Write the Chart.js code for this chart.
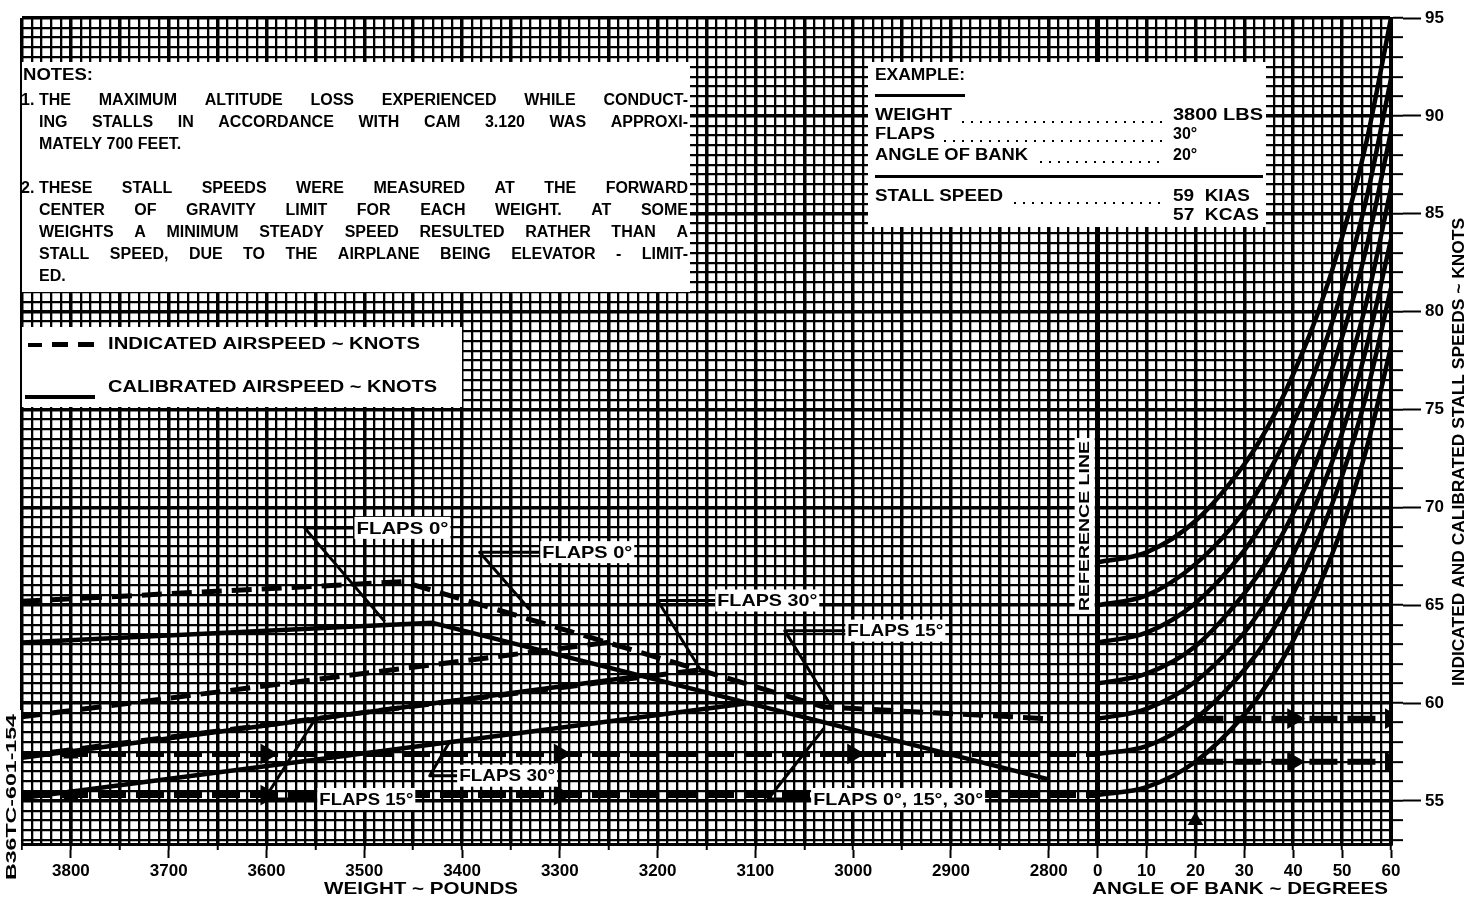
<!DOCTYPE html>
<html>
<head>
<meta charset="utf-8">
<title>Stall speeds</title>
<script src="https://cdn.jsdelivr.net/npm/chart.js@4.4.1/dist/chart.umd.min.js"></script>
<style>
html,body{margin:0;padding:0;background:#fff;overflow:hidden;}
canvas{display:block;}
</style>
</head>
<body>
<canvas id="chart" width="1470" height="900"></canvas>
<script>
// ---------------- data ----------------
const weightTicks = [3800, 3700, 3600, 3500, 3400, 3300, 3200, 3100, 3000, 2900, 2800];
const bankTicks   = [0, 10, 20, 30, 40, 50, 60];
const speedTicks  = [55, 60, 65, 70, 75, 80, 85, 90, 95];

// weight side (IAS dashed, CAS solid)
const ias0Weights  = [3850, 3460, 3030, 2800];
const ias0Knots    = [65.2, 66.2, 59.8, 59.2];
const cas0Weights  = [3850, 3430, 2800];
const cas0Knots    = [63.1, 64.1, 56.1];
const ias15Weights = [3850, 3250];
const ias15Knots   = [59.3, 63.1];
const cas15Weights = [3850, 3216];
const cas15Knots   = [57.2, 61.4];
const ias30Weights = [3850, 3156];
const ias30Knots   = [57.3, 61.7];
const cas30Weights = [3850, 3106];
const cas30Knots   = [55.15, 60.0];

// angle-of-bank guide curves (start at the reference line)
const bankAngles = [0, 10, 20, 30, 35, 40, 45, 50, 55, 60];
const bankCurveA = [67.2, 67.7, 69.3, 72.2, 74.2, 76.8, 79.9, 83.8, 88.7, 95.0];
const bankCurveB = [65.0, 65.5, 67.1, 69.8, 71.8, 74.3, 77.3, 81.1, 85.8, 91.9];
const bankCurveC = [63.1, 63.6, 65.1, 67.8, 69.7, 72.1, 75.0, 78.7, 83.3, 89.2];
const bankCurveD = [61.0, 61.5, 62.9, 65.6, 67.4, 69.7, 72.5, 76.1, 80.5, 86.3];
const bankCurveE = [59.2, 59.7, 61.1, 63.6, 65.4, 67.6, 70.4, 73.8, 78.2, 83.7];
const bankCurveF = [57.4, 57.8, 59.2, 61.7, 63.4, 65.6, 68.3, 71.6, 75.8, 81.2];
const bankCurveG = [55.3, 55.7, 57.0, 59.4, 61.1, 63.2, 65.8, 69.0, 73.0, 78.2];

// example path (3800 lbs, flaps 30, 20 deg bank)
const exWeights      = [3850, 3800, 3600, 3300, 3000, 2750];
const exIasKnots     = [57.4, 57.4, 57.4, 57.4, 57.4, 57.4];
const exCasKnots     = [55.3, 55.3, 55.3, 55.3, 55.3, 55.3];
const exUpWeights    = [3800, 3800, 3800];
const exUpKnots      = [52.8, 55.3, 57.4];
const exBankAngles   = [20, 40, 60];
const exBankIas      = [59.2, 59.2, 59.2];
const exBankCas      = [57.0, 57.0, 57.0];
const exBankUpAngles = [20, 20, 20];
const exBankUpKnots  = [52.8, 54.0, 57.0];

// label leader lines (weight, knots)
const leaderFlaps0a   = {w: [3510, 3561, 3479], k: [68.95, 68.95, 64.16]};
const leaderFlaps0b   = {w: [3320, 3382, 3331], k: [67.71, 67.71, 64.78]};
const leaderFlaps30a  = {w: [3141, 3200, 3156], k: [65.24, 65.24, 61.69]};
const leaderFlaps15a  = {w: [3008, 3070, 3023], k: [63.70, 63.70, 59.89]};
const leaderFlaps15b  = {w: [3548, 3602, 3551], k: [55.10, 55.10, 59.12]};
const leaderFlaps30b  = {w: [3405, 3433, 3413], k: [56.29, 56.29, 58.00]};
const leaderFlapsAll  = {w: [3043, 3087, 3030], k: [55.10, 55.10, 58.70]};

const notesText = [
  ['NOTES:', false, 0],
  ['1.', false, -1],
  ['THE MAXIMUM ALTITUDE LOSS EXPERIENCED WHILE CONDUCT-', true, 1],
  ['ING STALLS IN ACCORDANCE WITH CAM 3.120 WAS APPROXI-', true, 2],
  ['MATELY 700 FEET.', false, 3],
  ['2.', false, -5],
  ['THESE STALL SPEEDS WERE MEASURED AT THE FORWARD', true, 5],
  ['CENTER OF GRAVITY LIMIT FOR EACH WEIGHT. AT SOME', true, 6],
  ['WEIGHTS A MINIMUM STEADY SPEED RESULTED RATHER THAN A', true, 7],
  ['STALL SPEED, DUE TO THE AIRPLANE BEING ELEVATOR - LIMIT-', true, 8],
  ['ED.', false, 9]
];

// ---------------- helpers ----------------
const REF_WEIGHT = 2750;   // weight at the reference line
const LBS_PER_DEG = 5;     // one degree of bank occupies 5 lbs of the weight scale
const X_MIN = -220, X_MAX = 60, Y_MIN = 52.8, Y_MAX = 95;
const toX = w => (REF_WEIGHT - w) / LBS_PER_DEG;
const wSeries = (ws, ks) => ws.map((w, i) => ({x: toX(w), y: ks[i]}));
const bSeries = (as, ks) => as.map((a, i) => ({x: a, y: ks[i]}));
const FONT = '"Liberation Sans", Arial, Helvetica, sans-serif';

function lineSet(data, opt) {
  return Object.assign({
    data, showLine: true, borderColor: '#000', backgroundColor: '#000',
    borderWidth: 5, pointRadius: 0, tension: 0, fill: false,
    borderCapStyle: 'butt', borderJoinStyle: 'round'
  }, opt || {});
}
const IAS = {borderDash: [20, 10], borderWidth: 5};
const CAS = {borderWidth: 4.5};
const CURVE = {borderWidth: 4.5, cubicInterpolationMode: 'monotone'};
const LEADER = {borderWidth: 3};
const ARROW_H = {borderDash: [28, 10], borderWidth: 6, pointStyle: 'triangle', pointRotation: 90};

const datasets = [
  lineSet(bSeries(bankAngles, bankCurveA), CURVE),
  lineSet(bSeries(bankAngles, bankCurveB), CURVE),
  lineSet(bSeries(bankAngles, bankCurveC), CURVE),
  lineSet(bSeries(bankAngles, bankCurveD), CURVE),
  lineSet(bSeries(bankAngles, bankCurveE), CURVE),
  lineSet(bSeries(bankAngles, bankCurveF), CURVE),
  lineSet(bSeries(bankAngles, bankCurveG), CURVE),
  lineSet(wSeries(ias0Weights, ias0Knots), IAS),
  lineSet(wSeries(cas0Weights, cas0Knots), CAS),
  lineSet(wSeries(ias15Weights, ias15Knots), IAS),
  lineSet(wSeries(cas15Weights, cas15Knots), CAS),
  lineSet(wSeries(ias30Weights, ias30Knots), IAS),
  lineSet(wSeries(cas30Weights, cas30Knots), CAS),
  lineSet(wSeries(exWeights, exIasKnots), Object.assign({}, ARROW_H, {pointRadius: [0, 0, 6, 6, 6, 0]})),
  lineSet(wSeries(exWeights, exCasKnots), Object.assign({}, ARROW_H, {pointRadius: [0, 0, 6, 6, 6, 0]})),
  lineSet(wSeries(exUpWeights, exUpKnots), {borderWidth: 3, pointStyle: 'triangle', pointRadius: [0, 6, 6]}),
  lineSet(bSeries(exBankAngles, exBankIas), Object.assign({}, ARROW_H, {pointRadius: [0, 6, 6]})),
  lineSet(bSeries(exBankAngles, exBankCas), Object.assign({}, ARROW_H, {pointRadius: [0, 6, 6]})),
  lineSet(bSeries(exBankUpAngles, exBankUpKnots), {borderWidth: 3, pointStyle: 'triangle', pointRadius: [0, 6, 0]}),
  lineSet(wSeries(leaderFlaps0a.w, leaderFlaps0a.k), LEADER),
  lineSet(wSeries(leaderFlaps0b.w, leaderFlaps0b.k), LEADER),
  lineSet(wSeries(leaderFlaps30a.w, leaderFlaps30a.k), LEADER),
  lineSet(wSeries(leaderFlaps15a.w, leaderFlaps15a.k), LEADER),
  lineSet(wSeries(leaderFlaps15b.w, leaderFlaps15b.k), LEADER),
  lineSet(wSeries(leaderFlaps30b.w, leaderFlaps30b.k), LEADER),
  lineSet(wSeries(leaderFlapsAll.w, leaderFlapsAll.k), LEADER)
];

const flapLabels = [
  {text: 'FLAPS 0°', leader: leaderFlaps0a, width: 92},
  {text: 'FLAPS 0°', leader: leaderFlaps0b, width: 90},
  {text: 'FLAPS 30°', leader: leaderFlaps30a, width: 100},
  {text: 'FLAPS 15°', leader: leaderFlaps15a, width: 96},
  {text: 'FLAPS 15°', leader: leaderFlaps15b, width: 94},
  {text: 'FLAPS 30°', leader: leaderFlaps30b, width: 96},
  {text: 'FLAPS 0°, 15°, 30°', leader: leaderFlapsAll, width: 170}
];

// grid positions (every 2 units across, every half knot up)
const gridX = []; for (let v = X_MIN; v <= X_MAX; v += 2) gridX.push(v);
const gridY = []; for (let v = 53; v <= Y_MAX + 1e-9; v += 0.5) gridY.push(Math.round(v * 10) / 10);
const labelX = weightTicks.map(toX).concat(bankTicks);

function fitText(ctx, text, x, y, w, align) {
  const m = ctx.measureText(text).width;
  ctx.save();
  ctx.translate(x, y);
  ctx.scale(w / m, 1);
  ctx.textAlign = 'left';
  ctx.fillText(text, align === 'center' ? -m / 2 : 0, 0);
  ctx.restore();
}
function justify(ctx, text, x, y, width) {
  const words = text.split(' ');
  const total = words.reduce((s, w) => s + ctx.measureText(w).width, 0);
  const gap = (width - total) / (words.length - 1);
  let cx = x;
  words.forEach(w => { ctx.fillText(w, cx, y); cx += ctx.measureText(w).width + gap; });
}
function dots(ctx, x0, x1, y) {
  for (let x = x0; x < x1; x += 9) ctx.fillRect(x, y, 2, 2);
}

const annotations = {
  id: 'annotations',
  afterDatasetsDraw(chart) {
    const ctx = chart.ctx;
    const sx = chart.scales.x, sy = chart.scales.y;
    ctx.save();
    // white panels
    ctx.fillStyle = '#fff';
    ctx.fillRect(22, 62, 668, 230);
    ctx.fillRect(22, 327, 440, 80);
    ctx.fillRect(868, 62, 398, 165);
    ctx.fillStyle = '#000';
    ctx.textBaseline = 'middle';

    // notes
    ctx.font = 'bold 16px ' + FONT;
    notesText.forEach(([t, just, row]) => {
      if (row === 0) { fitText(ctx, t, 23, 76, 70); return; }
      if (row < 0) { ctx.fillText(t, 21, 101 + (-row - 1) * 22); return; }
      const y = 101 + (row - 1) * 22;
      if (just) justify(ctx, t, 39, y, 649); else ctx.fillText(t, 39, y);
    });

    // legend
    ctx.font = 'bold 16px ' + FONT;
    fitText(ctx, 'INDICATED AIRSPEED ~ KNOTS', 108, 345, 312);
    fitText(ctx, 'CALIBRATED AIRSPEED ~ KNOTS', 108, 388, 329);
    ctx.fillRect(28, 343, 14, 4);
    ctx.fillRect(52, 342, 16, 5);
    ctx.fillRect(78, 342, 16, 5);
    ctx.fillRect(25, 395, 70, 4);

    // example box
    ctx.font = 'bold 16px ' + FONT;
    fitText(ctx, 'EXAMPLE:', 875, 76, 90);
    ctx.fillRect(875, 94, 90, 3);
    fitText(ctx, 'WEIGHT', 875, 116, 77);
    fitText(ctx, 'FLAPS', 875, 135, 60);
    fitText(ctx, 'ANGLE OF BANK', 875, 156, 153);
    fitText(ctx, 'STALL SPEED', 875, 197, 128);
    fitText(ctx, '3800 LBS', 1173, 116, 90);
    ctx.fillText('30°', 1173, 135);
    ctx.fillText('20°', 1173, 156);
    fitText(ctx, '59  KIAS', 1173, 197, 77);
    fitText(ctx, '57  KCAS', 1173, 216, 86);
    dots(ctx, 962, 1165, 121);
    dots(ctx, 944, 1165, 140);
    dots(ctx, 1040, 1165, 161);
    dots(ctx, 1014, 1165, 202);
    ctx.fillRect(875, 175, 388, 3);

    // flap labels
    ctx.font = 'bold 17px ' + FONT;
    flapLabels.forEach(l => {
      const px = sx.getPixelForValue(toX(l.leader.w[0]));
      const py = sy.getPixelForValue(l.leader.k[0]);
      ctx.fillStyle = '#fff';
      ctx.fillRect(px, py - 11, l.width + 4, 22);
      ctx.fillStyle = '#000';
      fitText(ctx, l.text, px + 2, py + 1, l.width);
    });

    // reference line label
    const rx = sx.getPixelForValue(0);
    ctx.save();
    ctx.fillStyle = '#fff';
    ctx.fillRect(rx - 23, 438, 20, 176);
    ctx.fillStyle = '#000';
    ctx.translate(rx - 13, 526);
    ctx.rotate(-Math.PI / 2);
    ctx.font = 'bold 15px ' + FONT;
    fitText(ctx, 'REFERENCE LINE', 0, 0, 170, 'center');
    ctx.restore();

    // axis titles
    ctx.font = 'bold 17px ' + FONT;
    fitText(ctx, 'WEIGHT ~ POUNDS', 421, 889, 194, 'center');
    fitText(ctx, 'ANGLE OF BANK ~ DEGREES', 1240, 889, 296, 'center');
    ctx.save();
    ctx.translate(1459, 452);
    ctx.rotate(-Math.PI / 2);
    ctx.font = 'bold 17px ' + FONT;
    fitText(ctx, 'INDICATED AND CALIBRATED STALL SPEEDS ~ KNOTS', 0, 0, 468, 'center');
    ctx.restore();

    // figure code
    ctx.save();
    ctx.fillStyle = '#fff';
    ctx.fillRect(3, 710, 18, 175);
    ctx.fillStyle = '#000';
    ctx.translate(12, 797);
    ctx.rotate(-Math.PI / 2);
    ctx.font = 'bold 14px ' + FONT;
    fitText(ctx, 'B36TC-601-154', 0, 0, 166, 'center');
    ctx.restore();

    ctx.restore();
  }
};

Chart.defaults.font.family = FONT;
new Chart(document.getElementById('chart'), {
  type: 'scatter',
  data: {datasets},
  options: {
    responsive: false,
    animation: false,
    devicePixelRatio: 1,
    events: [],
    layout: {padding: {left: 22, top: 18, right: 0, bottom: 0}},
    plugins: {legend: {display: false}, tooltip: {enabled: false}, title: {display: false}},
    scales: {
      x: {
        type: 'linear', position: 'bottom', weight: 0, min: X_MIN, max: X_MAX,
        afterBuildTicks: s => { s.ticks = gridX.map(v => ({value: v})); },
        ticks: {display: false},
        grid: {
          color: '#000',
          lineWidth: c => (c.tick && c.tick.value === 0) ? 5 : (c.tick && c.tick.value % 10 === 0 ? 3.5 : 2.3),
          drawTicks: true, tickLength: 6, tickWidth: 2,
          tickColor: c => (c.tick && c.tick.value % 10 === 0) ? '#000' : 'rgba(0,0,0,0)'
        },
        border: {display: true, color: '#000', width: 3},
        afterFit: s => { s.height = 6; }
      },
      x2: {
        type: 'linear', position: 'bottom', weight: 1, min: X_MIN, max: X_MAX,
        afterBuildTicks: s => { s.ticks = labelX.map(v => ({value: v})); },
        ticks: {
          autoSkip: false, maxRotation: 0, padding: 3, color: '#000',
          font: {size: 17, weight: 'bold', family: FONT},
          callback: v => v <= toX(2800) ? String(Math.round(REF_WEIGHT - v * LBS_PER_DEG)) : String(v)
        },
        grid: {drawOnChartArea: false, tickLength: 8, tickWidth: 2, tickColor: '#000', color: '#000'},
        border: {display: false},
        afterFit: s => { s.height = 50; }
      },
      y: {
        type: 'linear', position: 'right', weight: 0, min: Y_MIN, max: Y_MAX,
        afterBuildTicks: s => { s.ticks = gridY.map(v => ({value: v})); },
        ticks: {display: false},
        grid: {
          color: '#000',
          lineWidth: c => (c.tick && c.tick.value % 5 === 0) ? 3.5 : 2.3,
          drawTicks: true, tickLength: 12, tickWidth: 2,
          tickColor: c => (c.tick && Number.isInteger(c.tick.value)) ? '#000' : 'rgba(0,0,0,0)'
        },
        border: {display: true, color: '#000', width: 3},
        afterFit: s => { s.width = 12; }
      },
      y2: {
        type: 'linear', position: 'right', weight: 1, min: Y_MIN, max: Y_MAX,
        afterBuildTicks: s => { s.ticks = speedTicks.map(v => ({value: v})); },
        ticks: {padding: 4, color: '#000', font: {size: 17, weight: 'bold', family: FONT}},
        grid: {drawOnChartArea: false, tickLength: 18, tickWidth: 2, tickColor: '#000', color: '#000'},
        border: {display: false},
        afterFit: s => { s.width = 67; }
      }
    }
  },
  plugins: [annotations]
});
</script>
</body>
</html>
